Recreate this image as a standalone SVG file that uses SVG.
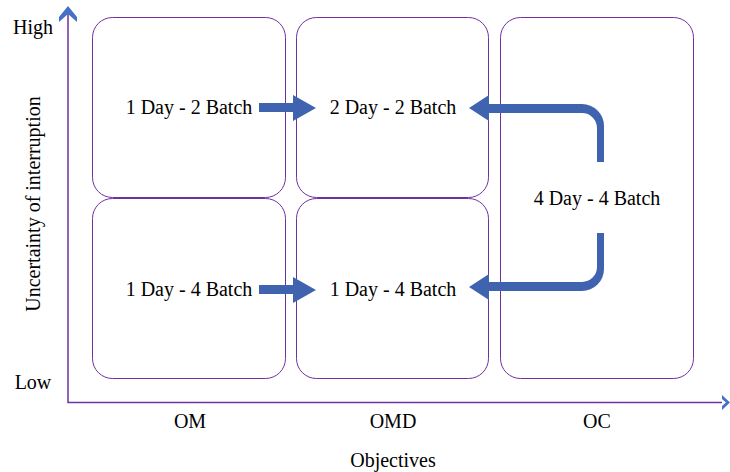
<svg xmlns="http://www.w3.org/2000/svg" width="730" height="472" viewBox="0 0 730 472">
<style>
.box{fill:#fff;stroke:#7030A0;stroke-width:1}
.t{font-family:"Liberation Serif",serif;font-size:20px;fill:#000;text-anchor:middle}
.arr{fill:#3F63AE}
.ax{stroke:#7030A0;stroke-width:1.5;fill:none}
.ah{fill:#4472C4}
</style>
<rect width="730" height="472" fill="#fff"/>
<g id="boxes">
<g id="om-high"><rect class="box" x="92.5" y="17.5" width="193" height="180" rx="20"/><text class="t" x="189" y="114">1 Day - 2 Batch</text></g>
<g id="om-low"><rect class="box" x="92.5" y="198.5" width="193" height="180" rx="20"/><text class="t" x="189" y="296">1 Day - 4 Batch</text></g>
<g id="omd-high"><rect class="box" x="296.5" y="17.5" width="192" height="180" rx="20"/><text class="t" x="393" y="114">2 Day - 2 Batch</text></g>
<g id="omd-low"><rect class="box" x="296.5" y="198.5" width="192" height="180" rx="20"/><text class="t" x="393" y="296">1 Day - 4 Batch</text></g>
<g id="oc"><rect class="box" x="500.5" y="17.5" width="193" height="361" rx="20"/><text class="t" x="597" y="205">4 Day - 4 Batch</text></g>
</g>
<g id="axes">
<path class="ax" d="M68,14 V402.5 H722"/>
<path class="ah" d="M68,6 L77,17 L77,22 L68,14 L59,22 L59,17 Z"/>
<path class="ah" d="M730,402.5 L722,395 L722,399 L726,402.5 L722,406 L722,410 Z"/>
<text class="t" x="33" y="34">High</text>
<text class="t" x="33" y="389">Low</text>
<text class="t" x="190" y="428">OM</text>
<text class="t" x="393" y="428">OMD</text>
<text class="t" x="597" y="428">OC</text>
<text class="t" x="393" y="467">Objectives</text>
<text class="t" transform="translate(40,204) rotate(-90)">Uncertainty of interruption</text>
</g>
<g id="connectors">
<path class="arr" d="M259,103 H293 V95 L316,108 L293,121 V112 H259 Z"/>
<path class="arr" d="M259,285 H293 V277 L316,290 L293,303 V294 H259 Z"/>
<path class="arr" d="M604,162 V126 A22,22 0 0 0 582,104 H489 V95 L469,108 L489,121 V113 H582 A15,15 0 0 1 597,128 V162 Z"/>
<path class="arr" d="M604,233 V269 A22,22 0 0 1 582,291 H489 V300 L469,287 L489,274 V282 H582 A15,15 0 0 0 597,267 V233 Z"/>
</g>
</svg>
